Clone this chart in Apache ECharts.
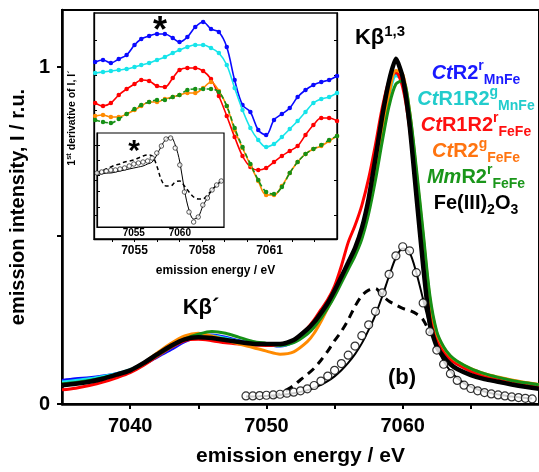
<!DOCTYPE html>
<html>
<head>
<meta charset="utf-8">
<script src="https://cdn.jsdelivr.net/npm/echarts@6/dist/echarts.min.js"></script>
<style>
html, body { margin: 0; padding: 0; background: #fff; }
#main { width: 539px; height: 472px; }
</style>
</head>
<body>
<div id="main"></div>
<script>
// main spectra (Kb emission), energy in eV, intensity normalised
var energy = [7035,7036,7037,7038,7039,7040,7041,7042,7043,7044,7045,7046,7047,7048,7049,7050,7051,7052,7053,
    7053.5,7054,7054.5,7055,7055.5,7056,7056.5,7057,7057.5,7058,7058.5,7059,7059.5,7060,7060.5,7061,7061.5,7062,7062.5,7063,7063.5,7064,
    7065,7066,7067,7068,7069,7070];
var ctR2rMnFe = [0.07,0.075,0.078,0.083,0.09,0.10,0.118,0.14,0.162,0.185,0.2,0.205,0.198,0.188,0.18,0.176,0.172,0.185,0.215,
    0.235,0.262,0.292,0.33,0.372,0.415,0.46,0.515,0.595,0.7,0.82,0.925,0.98,0.965,0.86,0.68,0.49,0.3,0.2,0.16,0.135,0.12,
    0.1,0.085,0.075,0.068,0.06,0.055];
var ctR1R2gMnFe = [0.065,0.07,0.075,0.082,0.09,0.102,0.12,0.143,0.168,0.19,0.203,0.203,0.195,0.186,0.18,0.176,0.173,0.183,0.212,
    0.232,0.26,0.29,0.328,0.37,0.412,0.455,0.51,0.59,0.695,0.81,0.915,0.975,0.96,0.86,0.68,0.49,0.3,0.2,0.16,0.135,0.12,
    0.1,0.085,0.074,0.066,0.06,0.054];
var ctR1R2rFeFe = [0.042,0.047,0.055,0.065,0.078,0.093,0.115,0.142,0.168,0.188,0.192,0.188,0.182,0.178,0.175,0.174,0.176,0.19,0.225,
    0.25,0.28,0.31,0.35,0.41,0.48,0.53,0.59,0.67,0.77,0.88,0.96,0.985,0.94,0.82,0.63,0.44,0.27,0.19,0.155,0.132,0.118,
    0.097,0.082,0.072,0.064,0.058,0.052];
var ctR2gFeFe = [0.055,0.06,0.066,0.075,0.087,0.1,0.123,0.152,0.18,0.202,0.21,0.202,0.19,0.178,0.168,0.157,0.148,0.155,0.185,
    0.21,0.245,0.285,0.325,0.368,0.41,0.452,0.505,0.585,0.69,0.81,0.92,0.99,0.98,0.87,0.69,0.5,0.31,0.21,0.168,0.142,0.126,
    0.105,0.09,0.08,0.071,0.064,0.058];
var mmR2rFeFe = [0.06,0.064,0.07,0.078,0.088,0.1,0.12,0.145,0.17,0.193,0.207,0.215,0.21,0.198,0.186,0.18,0.174,0.182,0.208,
    0.228,0.255,0.285,0.32,0.36,0.4,0.44,0.49,0.565,0.665,0.78,0.885,0.95,0.96,0.87,0.7,0.51,0.32,0.215,0.17,0.143,0.127,
    0.105,0.09,0.079,0.07,0.063,0.057];
var fe2o3 = [0.056,0.06,0.066,0.075,0.087,0.10,0.122,0.148,0.173,0.192,0.198,0.196,0.19,0.184,0.179,0.178,0.178,0.19,0.222,
    0.243,0.27,0.30,0.337,0.378,0.42,0.463,0.522,0.61,0.73,0.855,0.96,1.025,0.97,0.83,0.62,0.41,0.235,0.17,0.14,0.118,0.104,
    0.086,0.074,0.066,0.058,0.051,0.045];

// Fe2O3 components below the spectra
var fitEnergy = [7048.5,7049,7049.5,7050,7050.5,7051,7051.5,7052,7052.5,7053,7053.5,7054,7054.5,7055,7055.5,7056,7056.5,7057,7057.5,7058,
    7058.5,7059,7059.5,7060,7060.5,7061,7061.5,7062,7062.5,7063,7063.5,7064,7064.5,7065,7065.5,7066,7066.5,7067,7067.5,7068,7068.5,7069,7069.5];
var fe2o3Circles = [0.024,0.024,0.025,0.026,0.027,0.029,0.032,0.035,0.039,0.045,0.055,0.068,0.083,0.1,0.12,0.145,0.172,0.203,0.235,0.275,
    0.33,0.385,0.44,0.467,0.455,0.39,0.3,0.215,0.16,0.118,0.09,0.07,0.056,0.046,0.039,0.034,0.03,0.027,0.024,0.021,0.019,0.017,0.015];
var fe2o3Fit = [0.022,0.022,0.023,0.024,0.025,0.027,0.029,0.032,0.036,0.041,0.048,0.057,0.068,0.082,0.1,0.122,0.148,0.18,0.22,0.265,
    0.32,0.38,0.435,0.462,0.45,0.39,0.31,0.23,0.17,0.128,0.098,0.077,0.062,0.051,0.043,0.037,0.032,0.028,0.025,0.022,0.02,0.018,0.016];
var dashEnergy = [7050.5,7051,7051.5,7052,7052.5,7053,7053.5,7054,7054.5,7055,7055.5,7056,7056.5,7057,7057.5,7058,7058.5,7059,7059.5,7060,
    7060.5,7061,7061.5,7062];
var fe2o3Dashed = [0.02,0.03,0.042,0.055,0.072,0.088,0.106,0.13,0.157,0.188,0.216,0.25,0.29,0.322,0.338,0.343,0.322,0.305,0.294,0.284,
    0.278,0.268,0.25,0.21];

// inset: 1st derivative (arbitrary units)
var insetEnergy = [7053.25,7053.6,7053.95,7054.3,7054.65,7055,7055.3,7055.65,7056,7056.35,7056.7,7057,7057.35,7057.7,7058.05,7058.4,
    7058.75,7059.1,7059.45,7059.8,7060.15,7060.5,7060.85,7061.2,7061.55,7061.9,7062.25,7062.6,7062.95,7063.3,7063.65,7064];
var dCtR2rMnFe = [177,179,176,180,184,194,200,203,205,205,201,197,202,212,217,210,207,192,159,134,127,109,104,119,125,131,142,149,154,157,159,163];
var dCtR1R2gMnFe = [166,167,168,169,170,172,174,176,179,182,186,189,192,194,194,191,186,174,151,129,111,99,92,95,102,110,118,127,136,140,142,146];
var dCtR1R2rFeFe = [136,133,136,144,150,155,159,158,153,152,161,169,171,171,168,160,143,123,102,83,72,69,71,77,83,88,93,104,114,121,121,118];
var dCtR2gFeFe = [123,124,122,122,125,129,133,137,137,140,142,144,146,146,151,157,148,133,109,91,74,58,44,44,53,66,77,85,90,93,98,103];
var dMmR2rFeFe = [119,117,116,120,125,130,134,137,139,139,142,144,149,150,150,150,147,133,111,92,75,59,47,45,52,66,77,85,90,94,99,103];

// small inset: Fe2O3 derivative and its components
var innerEnergy = [7051,7051.5,7052,7052.5,7053,7053.5,7054,7054.5,7055,7055.5,7056,7056.5,7057,7057.5,7058,7058.5,7059,7059.5,7060,
    7060.5,7061,7061.5,7062,7062.5,7063,7063.5,7064,7064.5];
var dFe2o3Circles = [54,55,56,57,57,58,59,61,63,64,65,66,69,74,81,88,89,79,62,35,15,5,10,22,29,37,42,46];
var dFe2o3Fit = [53,53,54,54,55,56,57,58,59,60,61,63,65,72,81,88,90,82,65,37,17,8,10,21,29,37,42,46];
var dFe2o3Dashed = [54,56,58,60,62,63,65,66,67,69,71,72,71,61,47,41,41,45,46,41,35,30,28,28,32,37,42,46];

// tick labels
var mainXLabels = [7040, 7050, 7060];
var mainXTicks = [7040, 7045, 7050, 7055, 7060, 7065];
var mainYLabels = [0, 1];
var mainYTicks = [0, 0.5, 1];
var insetXLabels = [7055, 7058, 7061];
var insetXTicks = [7054, 7055, 7056, 7057, 7058, 7059, 7060, 7061, 7062, 7063];
var insetYTicks = [24, 59, 94, 129, 164, 199];
var innerXLabels = [7055, 7060];
var innerYTicks = [20, 36, 52, 67, 82];

var sampleColors = ['#0a0aff', '#16e4ea', '#ff0000', '#ff8a00', '#169016'];
var labelColors = ['#1a1aff', '#22cccc', '#ff1010', '#ff7410', '#1a961a', '#000000'];
var legendLabels = [
    '{i|Ct}{n|R2}{sup|r}{sub|MnFe}',
    '{i|Ct}{n|R1R2}{sup|g}{sub|MnFe}',
    '{i|Ct}{n|R1R2}{sup|r}{sub|FeFe}',
    '{i|Ct}{n|R2}{sup|g}{sub|FeFe}',
    '{i|Mm}{n|R2}{sup|r}{sub|FeFe}',
    '{n|Fe(III)}{sub|2}{n|O}{sub|3}'
];

var FONT = 'Liberation Sans, Arial, sans-serif';

function pairs(xs, ys) {
    return xs.map(function (x, i) { return [x, ys[i]]; });
}
function plain(v) {
    return String(v);
}

var chart = echarts.init(document.getElementById('main'));

var mainSets = [ctR2rMnFe, ctR1R2gMnFe, ctR1R2rFeFe, ctR2gFeFe, mmR2rFeFe];
var insetSets = [dCtR2rMnFe, dCtR1R2gMnFe, dCtR1R2rFeFe, dCtR2gFeFe, dMmR2rFeFe];
var series = [];

mainSets.forEach(function (d, i) {
    series.push({
        type: 'line', xAxisIndex: 0, yAxisIndex: 0,
        data: pairs(energy, d), symbol: 'none', smooth: 0.3,
        lineStyle: {color: sampleColors[i], width: 3}, z: 3 + i
    });
});
series.push({
    type: 'line', xAxisIndex: 0, yAxisIndex: 0,
    data: pairs(energy, fe2o3), symbol: 'none', smooth: 0.2,
    lineStyle: {color: '#000', width: 4.5}, z: 9
});
series.push({
    type: 'line', xAxisIndex: 0, yAxisIndex: 0,
    data: pairs(fitEnergy, fe2o3Fit), symbol: 'none', smooth: 0.3,
    lineStyle: {color: '#000', width: 2}, z: 9
});
series.push({
    type: 'line', xAxisIndex: 0, yAxisIndex: 0,
    data: pairs(dashEnergy, fe2o3Dashed), symbol: 'none', smooth: 0.3,
    lineStyle: {color: '#000', width: 3, type: [8, 6]}, z: 9
});
series.push({
    type: 'scatter', xAxisIndex: 0, yAxisIndex: 0,
    data: pairs(fitEnergy, fe2o3Circles), symbol: 'circle', symbolSize: 8,
    itemStyle: {color: '#fff', borderColor: '#000', borderWidth: 1.2}, z: 10
});

insetSets.forEach(function (d, i) {
    series.push({
        type: 'line', xAxisIndex: 1, yAxisIndex: 1,
        data: pairs(insetEnergy, d), symbol: 'circle', symbolSize: 4.5, smooth: 0.35,
        itemStyle: {color: sampleColors[i]},
        lineStyle: {color: sampleColors[i], width: 1.6, type: i === 4 ? [5, 3] : 'solid'}, z: 3 + i
    });
});

series.push({
    type: 'line', xAxisIndex: 2, yAxisIndex: 3,
    data: pairs(innerEnergy, dFe2o3Fit), symbol: 'none', smooth: 0.35,
    lineStyle: {color: '#000', width: 1}, z: 10
});
series.push({
    type: 'line', xAxisIndex: 2, yAxisIndex: 3,
    data: pairs(innerEnergy, dFe2o3Dashed), symbol: 'none', smooth: 0.35,
    lineStyle: {color: '#000', width: 1.5, type: [4, 3]}, z: 10
});
series.push({
    type: 'scatter', xAxisIndex: 2, yAxisIndex: 3,
    data: pairs(innerEnergy, dFe2o3Circles), symbol: 'circle', symbolSize: 4.5,
    itemStyle: {color: '#fff', borderColor: '#000', borderWidth: 0.8}, z: 11
});

function richFor(color) {
    return {
        i: {fill: color, fontFamily: FONT, fontWeight: 'bold', fontStyle: 'italic', fontSize: 20, lineHeight: 28},
        n: {fill: color, fontFamily: FONT, fontWeight: 'bold', fontSize: 20, lineHeight: 28},
        sup: {fill: color, fontFamily: FONT, fontWeight: 'bold', fontSize: 14, verticalAlign: 'top'},
        sub: {fill: color, fontFamily: FONT, fontWeight: 'bold', fontSize: 14, verticalAlign: 'bottom'}
    };
}

var graphics = legendLabels.map(function (t, i) {
    return {
        type: 'text', x: 476, y: 73 + i * 26, z: 100,
        style: {text: t, align: 'center', verticalAlign: 'middle', rich: richFor(labelColors[i])}
    };
});
graphics.push(
    {type: 'text', x: 380, y: 38, z: 100,
        style: {text: '{a|Kβ}{s|1,3}', align: 'center', verticalAlign: 'middle',
            rich: {a: {fill: '#000', fontFamily: FONT, fontWeight: 'bold', fontSize: 22, lineHeight: 28},
                s: {fill: '#000', fontFamily: FONT, fontWeight: 'bold', fontSize: 15, verticalAlign: 'top'}}}},
    {type: 'text', x: 201, y: 308, z: 100,
        style: {text: 'Kβ´', align: 'center', verticalAlign: 'middle', fill: '#000',
            fontFamily: FONT, fontWeight: 'bold', fontSize: 22}},
    {type: 'text', x: 402, y: 378, z: 100,
        style: {text: '(b)', align: 'center', verticalAlign: 'middle', fill: '#000',
            fontFamily: FONT, fontWeight: 'bold', fontSize: 22}},
    {type: 'text', x: 160, y: 32, z: 100,
        style: {text: '*', align: 'center', verticalAlign: 'middle', fill: '#000',
            fontFamily: FONT, fontWeight: 'bold', fontSize: 36}},
    {type: 'text', x: 134, y: 152, z: 100,
        style: {text: '*', align: 'center', verticalAlign: 'middle', fill: '#000',
            fontFamily: FONT, fontWeight: 'bold', fontSize: 30}},
    {type: 'text', x: 72, y: 118, z: 100, rotation: Math.PI / 2,
        style: {text: '{a|1}{s|st}{a| derivative of I, I´}', align: 'center', verticalAlign: 'middle',
            rich: {a: {fill: '#000', fontFamily: FONT, fontWeight: 'bold', fontSize: 10.5, lineHeight: 14},
                s: {fill: '#000', fontFamily: FONT, fontWeight: 'bold', fontSize: 7.5, verticalAlign: 'top'}}}}
);

var option = {
    animation: false,
    backgroundColor: '#fff',
    grid: [
        {left: 57, top: 10, width: 487, height: 396, show: true, borderColor: '#000', borderWidth: 2},
        {left: 94, top: 13, width: 243, height: 226, show: true, backgroundColor: '#fff', borderColor: '#000', borderWidth: 1.3},
        {left: 97, top: 133, width: 127, height: 94, show: true, backgroundColor: '#fff', borderColor: '#000', borderWidth: 1.2}
    ],
    xAxis: [
        {
            type: 'value', gridIndex: 0, min: 7035, max: 7070,
            name: 'emission energy / eV', nameLocation: 'middle', nameGap: 42,
            nameTextStyle: {color: '#000', fontFamily: FONT, fontWeight: 'bold', fontSize: 21},
            axisLine: {lineStyle: {color: '#000', width: 2.5}},
            axisTick: {customValues: mainXTicks, length: 5, lineStyle: {color: '#000', width: 2}},
            axisLabel: {customValues: mainXLabels, formatter: plain, margin: 12, color: '#000', fontFamily: FONT, fontWeight: 'bold', fontSize: 20},
            splitLine: {show: false}
        },
        {
            type: 'value', gridIndex: 1, min: 7053.2, max: 7064,
            name: 'emission energy / eV', nameLocation: 'middle', nameGap: 26,
            nameTextStyle: {color: '#000', fontFamily: FONT, fontWeight: 'bold', fontSize: 12},
            axisLine: {lineStyle: {color: '#000', width: 1.3}},
            axisTick: {customValues: insetXTicks, length: 3, lineStyle: {color: '#000'}},
            axisLabel: {customValues: insetXLabels, formatter: plain, margin: 6, color: '#000', fontFamily: FONT, fontWeight: 'bold', fontSize: 12},
            splitLine: {show: false}
        },
        {
            type: 'value', gridIndex: 2, min: 7051, max: 7064.8,
            axisLine: {lineStyle: {color: '#000', width: 1.2}},
            axisTick: {show: false},
            axisLabel: {customValues: innerXLabels, formatter: plain, margin: 1, color: '#000', fontFamily: FONT, fontWeight: 'bold', fontSize: 10},
            splitLine: {show: false}
        }
    ],
    yAxis: [
        {
            type: 'value', gridIndex: 0, min: 0, max: 1.17,
            name: 'emission intensity, I / r.u.', nameLocation: 'middle', nameGap: 28,
            nameTextStyle: {color: '#000', fontFamily: FONT, fontWeight: 'bold', fontSize: 20},
            axisLine: {lineStyle: {color: '#000', width: 2.5}},
            axisTick: {customValues: mainYTicks, length: 5, lineStyle: {color: '#000', width: 2}},
            axisLabel: {customValues: mainYLabels, formatter: plain, margin: 12, color: '#000', fontFamily: FONT, fontWeight: 'bold', fontSize: 20},
            splitLine: {show: false}
        },
        {
            type: 'value', gridIndex: 1, min: 0, max: 226,
            axisLine: {lineStyle: {color: '#000', width: 1.3}},
            axisTick: {inside: true, customValues: insetYTicks, length: 3, lineStyle: {color: '#000'}},
            axisLabel: {show: false}, splitLine: {show: false}
        },
        {
            type: 'value', gridIndex: 1, min: 0, max: 226, position: 'right',
            axisLine: {lineStyle: {color: '#000', width: 1.3}},
            axisTick: {inside: true, customValues: insetYTicks, length: 3, lineStyle: {color: '#000'}},
            axisLabel: {show: false}, splitLine: {show: false}
        },
        {
            type: 'value', gridIndex: 2, min: 0, max: 94,
            axisLine: {lineStyle: {color: '#000', width: 1.2}},
            axisTick: {inside: true, customValues: innerYTicks, length: 3, lineStyle: {color: '#000'}},
            axisLabel: {show: false}, splitLine: {show: false}
        }
    ],
    graphic: graphics,
    series: series
};

chart.setOption(option);
</script>
</body>
</html>
